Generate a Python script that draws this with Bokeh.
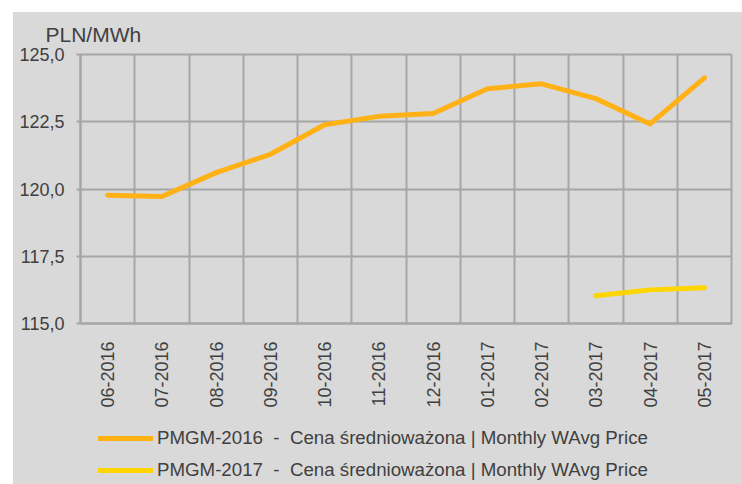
import math
from bokeh.plotting import figure
from bokeh.layouts import column
from bokeh.models import FactorRange, Range1d, FixedTicker, Legend, LegendItem
from bokeh.embed import file_html
from bokeh.resources import INLINE

months = ["06-2016", "07-2016", "08-2016", "09-2016", "10-2016", "11-2016",
          "12-2016", "01-2017", "02-2017", "03-2017", "04-2017", "05-2017"]
pmgm_2016 = [119.77, 119.72, 120.61, 121.29, 122.39, 122.70,
             122.81, 123.73, 123.91, 123.36, 122.42, 124.13]
months_2017 = ["03-2017", "04-2017", "05-2017"]
pmgm_2017 = [116.03, 116.25, 116.33]
y_ticks = [115.0, 117.5, 120.0, 122.5, 125.0]
y_tick_labels = ["115,0", "117,5", "120,0", "122,5", "125,0"]
name_2016 = "PMGM-2016  -  Cena średnioważona | Monthly WAvg Price"
name_2017 = "PMGM-2017  -  Cena średnioważona | Monthly WAvg Price"
unit_label = "PLN/MWh"

BG = "#d9d9d9"
GRID = "#a6a6a6"
TXT = "#404040"
FONT = "Liberation Sans"
C16 = "#ffb116"
C17 = "#ffd500"

p = figure(x_range=FactorRange(*months, range_padding=0),
           y_range=Range1d(115, 125),
           width=729, height=398, output_backend="svg", toolbar_location=None,
           min_border_left=67, min_border_top=41, min_border_right=11, min_border_bottom=85,
           background_fill_color=BG, border_fill_color=BG,
           outline_line_color=GRID, outline_line_width=2)

p.title.text = unit_label
p.title.align = "left"
p.title.offset = -35
p.title.standoff = 17
p.title.text_font = FONT
p.title.text_font_size = "21px"
p.title.text_font_style = "normal"
p.title.text_color = TXT

r1 = p.line(months, pmgm_2016, line_color=C16, line_width=5,
            line_cap="round", line_join="round")
r2 = p.line(months_2017, pmgm_2017, line_color=C17, line_width=5,
            line_cap="round", line_join="round")

# axes
p.yaxis.ticker = FixedTicker(ticks=y_ticks)
p.yaxis.major_label_overrides = {t: s for t, s in zip(y_ticks, y_tick_labels)}
p.yaxis.major_label_text_font = FONT
p.yaxis.major_label_text_font_size = "18px"
p.yaxis.major_label_text_color = TXT
p.yaxis.axis_line_color = GRID
p.yaxis.axis_line_width = 2
p.yaxis.major_tick_line_color = GRID
p.yaxis.major_tick_line_width = 2
p.yaxis.major_tick_in = 0
p.yaxis.major_tick_out = 4
p.yaxis.minor_tick_line_color = None
p.yaxis.major_label_standoff = 12

p.xaxis.major_label_orientation = math.pi / 2
p.xaxis.major_label_text_font = FONT
p.xaxis.major_label_text_font_size = "18px"
p.xaxis.major_label_text_color = TXT
p.xaxis.axis_line_color = GRID
p.xaxis.axis_line_width = 2
p.xaxis.major_tick_line_color = None
p.xaxis.major_label_standoff = 12

# grids
p.ygrid.ticker = FixedTicker(ticks=y_ticks)
p.ygrid.grid_line_color = GRID
p.ygrid.grid_line_width = 2
p.xgrid.ticker = FixedTicker(ticks=list(range(len(months) + 1)))
p.xgrid.grid_line_color = GRID
p.xgrid.grid_line_width = 2

# legend strip below the chart (its frame is aligned with the chart's frame)
lg = figure(x_range=FactorRange(*months, range_padding=0), y_range=Range1d(115, 125),
            width=729, height=74, output_backend="svg", toolbar_location=None,
            x_axis_type=None, y_axis_type=None,
            min_border_left=67, min_border_right=11,
            min_border_top=0, min_border_bottom=0,
            background_fill_color=BG, border_fill_color=BG,
            outline_line_color=BG, outline_line_width=2)
k1 = lg.line(months, pmgm_2016, line_color=C16, line_width=5, line_cap="round",
             visible=False)
k2 = lg.line(months_2017, pmgm_2017, line_color=C17, line_width=5, line_cap="round",
             visible=False)

legend = Legend(items=[LegendItem(label=name_2016, renderers=[k1]),
                       LegendItem(label=name_2017, renderers=[k2])],
                location=(18, 0), orientation="vertical",
                background_fill_alpha=0, border_line_color=None,
                padding=0, margin=0, spacing=4,
                glyph_width=55, glyph_height=28, label_height=28,
                label_standoff=4, label_text_font=FONT,
                label_text_font_size="18.7px", label_text_color=TXT)
lg.add_layout(legend, "center")

layout = column(p, lg, spacing=0)
layout.margin = (12, 0, 0, 13)
layout.styles = {"background-color": BG}

open("out.html", "w").write(file_html(layout, INLINE))
